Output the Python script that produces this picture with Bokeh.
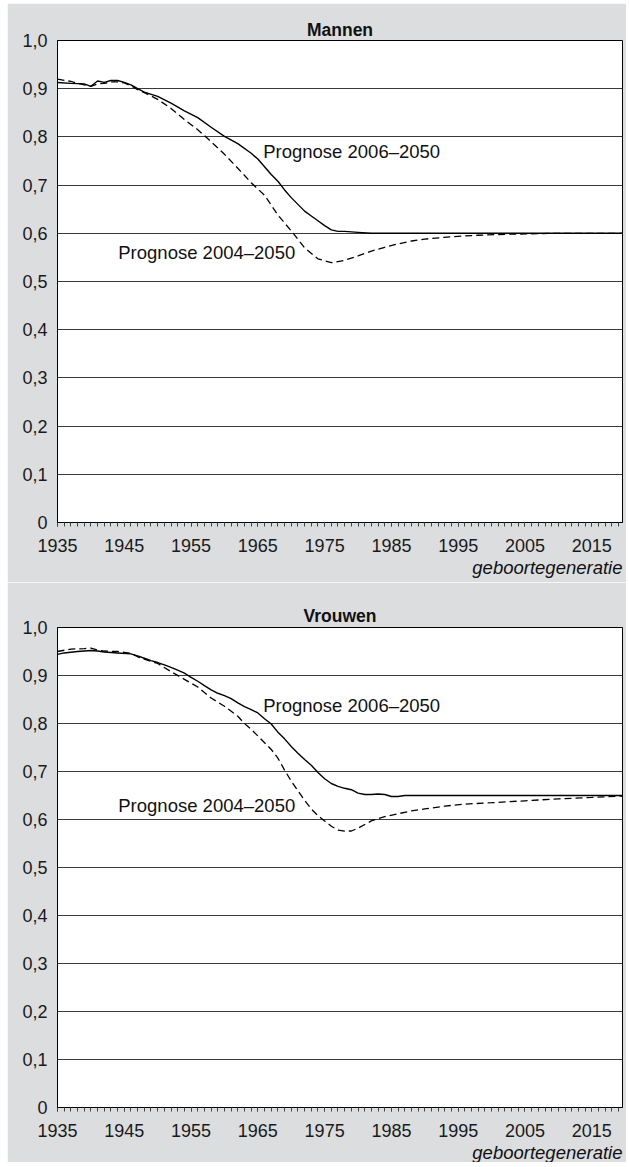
from bokeh.plotting import figure
from bokeh.models import (Range1d, FixedTicker, CustomJSTickFormatter, Label, Title)
from bokeh.layouts import column
from bokeh.embed import file_html
from bokeh.resources import INLINE

# ---------------- data ----------------
men_2006_years = [1935, 1937, 1939, 1940, 1941, 1942, 1943, 1944, 1945, 1946, 1947, 1948, 1950, 1952,
                  1954, 1956, 1958, 1960, 1962, 1964, 1965, 1966, 1967, 1968, 1969, 1970, 1971, 1972,
                  1973, 1974, 1975, 1976, 1977, 1978, 1980, 1982, 2019.6]
men_2006_vals = [0.913, 0.911, 0.910, 0.905, 0.916, 0.913, 0.917, 0.917, 0.913, 0.908, 0.900, 0.893,
                 0.884, 0.870, 0.854, 0.840, 0.820, 0.801, 0.786, 0.766, 0.754, 0.738, 0.722, 0.708,
                 0.690, 0.674, 0.660, 0.646, 0.636, 0.626, 0.616, 0.607, 0.604, 0.604, 0.602, 0.600,
                 0.600]

men_2004_years = [1935, 1937, 1939, 1940, 1941, 1942, 1943, 1944, 1945, 1946, 1947, 1948, 1950, 1952,
                  1954, 1956, 1958, 1960, 1962, 1964, 1966, 1968, 1970, 1972, 1974, 1976, 1978, 1980,
                  1982, 1984, 1986, 1988, 1990, 1994, 1998, 2002, 2006, 2010, 2019.6]
men_2004_vals = [0.920, 0.915, 0.908, 0.905, 0.910, 0.911, 0.914, 0.914, 0.912, 0.906, 0.898, 0.892,
                 0.878, 0.859, 0.836, 0.815, 0.790, 0.764, 0.735, 0.705, 0.679, 0.638, 0.605, 0.570,
                 0.547, 0.539, 0.544, 0.553, 0.563, 0.571, 0.578, 0.584, 0.588, 0.593, 0.596, 0.598,
                 0.599, 0.600, 0.600]

women_2006_years = [1935, 1936, 1938, 1940, 1941, 1942, 1944, 1946, 1947, 1948, 1949, 1950, 1951, 1952,
                    1953, 1954, 1955, 1956, 1957, 1958, 1959, 1960, 1961, 1962, 1963, 1964, 1965, 1966,
                    1967, 1968, 1969, 1970, 1971, 1972, 1973, 1974, 1975, 1976, 1977, 1978, 1979, 1980,
                    1981, 1982, 1983, 1984, 1985, 1986, 1987, 1988, 2019.6]
women_2006_vals = [0.944, 0.947, 0.950, 0.952, 0.951, 0.949, 0.947, 0.945, 0.941, 0.936, 0.931, 0.927,
                   0.922, 0.917, 0.911, 0.905, 0.896, 0.888, 0.879, 0.870, 0.863, 0.858, 0.852, 0.843,
                   0.835, 0.829, 0.822, 0.810, 0.799, 0.782, 0.768, 0.752, 0.738, 0.725, 0.713, 0.698,
                   0.685, 0.675, 0.669, 0.665, 0.662, 0.655, 0.652, 0.652, 0.653, 0.652, 0.648, 0.648,
                   0.650, 0.650, 0.650]

women_2004_years = [1935, 1937, 1939, 1940, 1941, 1942, 1944, 1946, 1947, 1948, 1950, 1952, 1954, 1956,
                    1958, 1960, 1962, 1963, 1964, 1966, 1967, 1968, 1969, 1970, 1971, 1972, 1973, 1974,
                    1975, 1976, 1977, 1978, 1979, 1980, 1982, 1984, 1986, 1988, 1990, 1993, 1996, 2000,
                    2005, 2010, 2015, 2019.6]
women_2004_vals = [0.950, 0.955, 0.956, 0.957, 0.953, 0.951, 0.950, 0.946, 0.939, 0.934, 0.925, 0.908,
                   0.892, 0.876, 0.853, 0.836, 0.815, 0.800, 0.788, 0.760, 0.746, 0.728, 0.703, 0.680,
                   0.660, 0.640, 0.622, 0.608, 0.597, 0.586, 0.578, 0.576, 0.576, 0.582, 0.597, 0.606,
                   0.612, 0.618, 0.622, 0.628, 0.632, 0.635, 0.639, 0.643, 0.646, 0.649]

x_ticks = [1935, 1945, 1955, 1965, 1975, 1985, 1995, 2005, 2015]
y_ticks = [0, 0.1, 0.2, 0.3, 0.4, 0.5, 0.6, 0.7, 0.8, 0.9, 1.0]
minor_years = list(range(1935, 2020))

panel_titles = ["Mannen", "Vrouwen"]
series_labels = ["Prognose 2006\u20132050", "Prognose 2004\u20132050"]
x_axis_label = "geboortegeneratie"

# label anchor positions (data coords)
lab_2006 = [(1965.8, 0.770), (1965.8, 0.8375)]
lab_2004 = [(1944.1, 0.561), (1944.1, 0.629)]

GREY = "#dcdddf"
FONT = "Liberation Sans"


def make_panel(title, s06x, s06y, s04x, s04y, l06, l04, height, top, bottom, title_standoff):
    p = figure(width=619, height=height, output_backend="svg", toolbar_location=None,
               x_range=Range1d(1935, 2019.6), y_range=Range1d(0, 1.0),
               min_border_left=50, min_border_right=4, min_border_top=top,
               min_border_bottom=bottom)
    p.background_fill_color = "white"
    p.border_fill_color = GREY
    p.outline_line_color = "black"
    p.outline_line_width = 1

    p.title = Title(text=title, align="center", text_font=FONT, text_font_size="17.5px",
                    text_font_style="bold", text_color="#111111", standoff=title_standoff)

    p.xgrid.visible = False
    p.ygrid.ticker = FixedTicker(ticks=y_ticks)
    p.ygrid.grid_line_color = "#3a3a3a"
    p.ygrid.grid_line_width = 1

    xa = p.xaxis[0]
    xa.ticker = FixedTicker(ticks=x_ticks, minor_ticks=minor_years)
    xa.major_tick_in = 0
    xa.major_tick_out = 4
    xa.minor_tick_in = 0
    xa.minor_tick_out = 4
    xa.major_tick_line_color = "#444444"
    xa.minor_tick_line_color = "#444444"
    xa.axis_line_color = "black"
    xa.major_label_text_font = FONT
    xa.major_label_text_font_size = "18px"
    xa.major_label_text_color = "#1a1a1a"
    xa.major_label_standoff = 12

    ya = p.yaxis[0]
    ya.ticker = FixedTicker(ticks=y_ticks)
    ya.formatter = CustomJSTickFormatter(
        code="return tick == 0 ? '0' : tick.toFixed(1).replace('.', ',');")
    ya.major_tick_in = 0
    ya.major_tick_out = 0
    ya.minor_tick_in = 0
    ya.minor_tick_out = 0
    ya.axis_line_color = "black"
    ya.major_label_text_font = FONT
    ya.major_label_text_font_size = "18px"
    ya.major_label_text_color = "#1a1a1a"
    ya.major_label_standoff = 10

    p.line(s06x, s06y, line_color="black", line_width=1.4)
    p.line(s04x, s04y, line_color="black", line_width=1.3, line_dash="7 4")

    for txt, (lx, ly) in ((series_labels[0], l06), (series_labels[1], l04)):
        p.add_layout(Label(x=lx, y=ly, text=txt, text_font=FONT, text_font_size="18.5px",
                           text_baseline="middle", text_align="left", text_color="#111111"))

    p.add_layout(Title(text=x_axis_label, align="right", text_font=FONT,
                       text_font_size="18.5px", text_font_style="italic",
                       text_color="#111111", standoff=0), "below")
    return p


p1 = make_panel(panel_titles[0], men_2006_years, men_2006_vals, men_2004_years, men_2004_vals,
                lab_2006[0], lab_2004[0], 579, 37, 60, 1)
p2 = make_panel(panel_titles[1], women_2006_years, women_2006_vals, women_2004_years, women_2004_vals,
                lab_2006[1], lab_2004[1], 580, 45, 55, 3)

layout = column(p1, p2, spacing=0, margin=(3, 0, 0, 7))
open("out.html", "w").write(file_html(layout, INLINE))
